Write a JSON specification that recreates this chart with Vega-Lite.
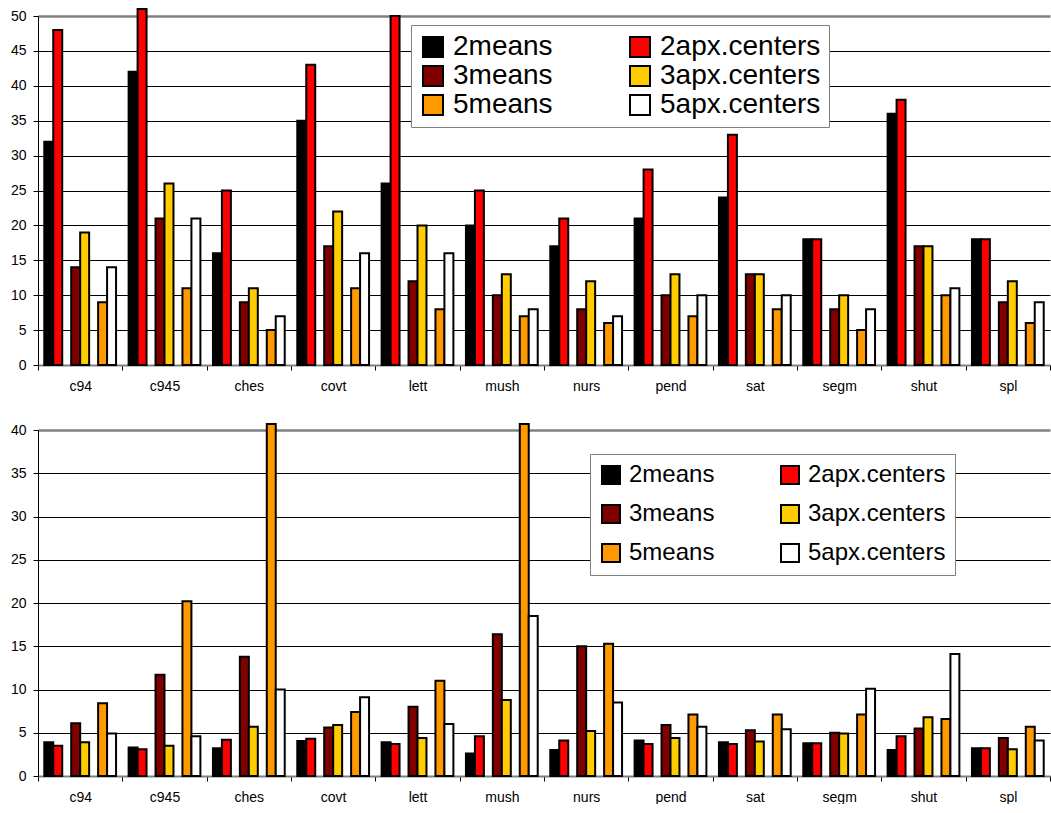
{
  "$schema": "https://vega.github.io/schema/vega-lite/v6.json",
  "padding": {"left": 10, "top": 8, "right": 0, "bottom": 0},
  "background": "white",
  "config": {"font": "Liberation Sans", "view": {"stroke": null}, "concat": {"spacing": 29}},
  "datasets": {
    "top": [
      {"c":"c94","s":"2means","v":32},{"c":"c94","s":"2apx.centers","v":48},{"c":"c94","s":"3means","v":14},{"c":"c94","s":"3apx.centers","v":19},{"c":"c94","s":"5means","v":9},{"c":"c94","s":"5apx.centers","v":14},
      {"c":"c945","s":"2means","v":42},{"c":"c945","s":"2apx.centers","v":51},{"c":"c945","s":"3means","v":21},{"c":"c945","s":"3apx.centers","v":26},{"c":"c945","s":"5means","v":11},{"c":"c945","s":"5apx.centers","v":21},
      {"c":"ches","s":"2means","v":16},{"c":"ches","s":"2apx.centers","v":25},{"c":"ches","s":"3means","v":9},{"c":"ches","s":"3apx.centers","v":11},{"c":"ches","s":"5means","v":5},{"c":"ches","s":"5apx.centers","v":7},
      {"c":"covt","s":"2means","v":35},{"c":"covt","s":"2apx.centers","v":43},{"c":"covt","s":"3means","v":17},{"c":"covt","s":"3apx.centers","v":22},{"c":"covt","s":"5means","v":11},{"c":"covt","s":"5apx.centers","v":16},
      {"c":"lett","s":"2means","v":26},{"c":"lett","s":"2apx.centers","v":50},{"c":"lett","s":"3means","v":12},{"c":"lett","s":"3apx.centers","v":20},{"c":"lett","s":"5means","v":8},{"c":"lett","s":"5apx.centers","v":16},
      {"c":"mush","s":"2means","v":20},{"c":"mush","s":"2apx.centers","v":25},{"c":"mush","s":"3means","v":10},{"c":"mush","s":"3apx.centers","v":13},{"c":"mush","s":"5means","v":7},{"c":"mush","s":"5apx.centers","v":8},
      {"c":"nurs","s":"2means","v":17},{"c":"nurs","s":"2apx.centers","v":21},{"c":"nurs","s":"3means","v":8},{"c":"nurs","s":"3apx.centers","v":12},{"c":"nurs","s":"5means","v":6},{"c":"nurs","s":"5apx.centers","v":7},
      {"c":"pend","s":"2means","v":21},{"c":"pend","s":"2apx.centers","v":28},{"c":"pend","s":"3means","v":10},{"c":"pend","s":"3apx.centers","v":13},{"c":"pend","s":"5means","v":7},{"c":"pend","s":"5apx.centers","v":10},
      {"c":"sat","s":"2means","v":24},{"c":"sat","s":"2apx.centers","v":33},{"c":"sat","s":"3means","v":13},{"c":"sat","s":"3apx.centers","v":13},{"c":"sat","s":"5means","v":8},{"c":"sat","s":"5apx.centers","v":10},
      {"c":"segm","s":"2means","v":18},{"c":"segm","s":"2apx.centers","v":18},{"c":"segm","s":"3means","v":8},{"c":"segm","s":"3apx.centers","v":10},{"c":"segm","s":"5means","v":5},{"c":"segm","s":"5apx.centers","v":8},
      {"c":"shut","s":"2means","v":36},{"c":"shut","s":"2apx.centers","v":38},{"c":"shut","s":"3means","v":17},{"c":"shut","s":"3apx.centers","v":17},{"c":"shut","s":"5means","v":10},{"c":"shut","s":"5apx.centers","v":11},
      {"c":"spl","s":"2means","v":18},{"c":"spl","s":"2apx.centers","v":18},{"c":"spl","s":"3means","v":9},{"c":"spl","s":"3apx.centers","v":12},{"c":"spl","s":"5means","v":6},{"c":"spl","s":"5apx.centers","v":9}
    ],
    "bottom": [
      {"c":"c94","s":"2means","v":3.9},{"c":"c94","s":"2apx.centers","v":3.5},{"c":"c94","s":"3means","v":6.1},{"c":"c94","s":"3apx.centers","v":3.9},{"c":"c94","s":"5means","v":8.4},{"c":"c94","s":"5apx.centers","v":4.9},
      {"c":"c945","s":"2means","v":3.3},{"c":"c945","s":"2apx.centers","v":3.1},{"c":"c945","s":"3means","v":11.7},{"c":"c945","s":"3apx.centers","v":3.5},{"c":"c945","s":"5means","v":20.2},{"c":"c945","s":"5apx.centers","v":4.6},
      {"c":"ches","s":"2means","v":3.2},{"c":"ches","s":"2apx.centers","v":4.2},{"c":"ches","s":"3means","v":13.8},{"c":"ches","s":"3apx.centers","v":5.7},{"c":"ches","s":"5means","v":40.7},{"c":"ches","s":"5apx.centers","v":10.0},
      {"c":"covt","s":"2means","v":4.05},{"c":"covt","s":"2apx.centers","v":4.3},{"c":"covt","s":"3means","v":5.6},{"c":"covt","s":"3apx.centers","v":5.9},{"c":"covt","s":"5means","v":7.4},{"c":"covt","s":"5apx.centers","v":9.1},
      {"c":"lett","s":"2means","v":3.9},{"c":"lett","s":"2apx.centers","v":3.7},{"c":"lett","s":"3means","v":8.0},{"c":"lett","s":"3apx.centers","v":4.4},{"c":"lett","s":"5means","v":11.0},{"c":"lett","s":"5apx.centers","v":6.0},
      {"c":"mush","s":"2means","v":2.6},{"c":"mush","s":"2apx.centers","v":4.6},{"c":"mush","s":"3means","v":16.4},{"c":"mush","s":"3apx.centers","v":8.8},{"c":"mush","s":"5means","v":40.7},{"c":"mush","s":"5apx.centers","v":18.5},
      {"c":"nurs","s":"2means","v":3.0},{"c":"nurs","s":"2apx.centers","v":4.1},{"c":"nurs","s":"3means","v":15.0},{"c":"nurs","s":"3apx.centers","v":5.2},{"c":"nurs","s":"5means","v":15.3},{"c":"nurs","s":"5apx.centers","v":8.5},
      {"c":"pend","s":"2means","v":4.1},{"c":"pend","s":"2apx.centers","v":3.7},{"c":"pend","s":"3means","v":5.9},{"c":"pend","s":"3apx.centers","v":4.4},{"c":"pend","s":"5means","v":7.1},{"c":"pend","s":"5apx.centers","v":5.7},
      {"c":"sat","s":"2means","v":3.9},{"c":"sat","s":"2apx.centers","v":3.7},{"c":"sat","s":"3means","v":5.3},{"c":"sat","s":"3apx.centers","v":4.0},{"c":"sat","s":"5means","v":7.1},{"c":"sat","s":"5apx.centers","v":5.4},
      {"c":"segm","s":"2means","v":3.8},{"c":"segm","s":"2apx.centers","v":3.8},{"c":"segm","s":"3means","v":5.0},{"c":"segm","s":"3apx.centers","v":4.9},{"c":"segm","s":"5means","v":7.1},{"c":"segm","s":"5apx.centers","v":10.1},
      {"c":"shut","s":"2means","v":3.0},{"c":"shut","s":"2apx.centers","v":4.6},{"c":"shut","s":"3means","v":5.5},{"c":"shut","s":"3apx.centers","v":6.8},{"c":"shut","s":"5means","v":6.6},{"c":"shut","s":"5apx.centers","v":14.1},
      {"c":"spl","s":"2means","v":3.2},{"c":"spl","s":"2apx.centers","v":3.2},{"c":"spl","s":"3means","v":4.4},{"c":"spl","s":"3apx.centers","v":3.1},{"c":"spl","s":"5means","v":5.7},{"c":"spl","s":"5apx.centers","v":4.1}
    ]
  },
  "vconcat": [
    {
      "width": 1012, "height": 349,
      "data": {"name": "top"},
      "mark": {"type": "bar", "stroke": "black", "strokeWidth": 2},
      "encoding": {
        "x": {"field": "c", "type": "nominal", "title": null, "scale": {"paddingInner": 0, "paddingOuter": 0},
              "axis": {"labelAngle": 0, "labelFontSize": 14, "labelColor": "black", "tickBand": "extent", "tickSize": 5, "tickColor": "black", "domainColor": "#808080", "domainWidth": 2, "labelPadding": 9, "grid": false}},
        "xOffset": {"field": "s", "type": "nominal", "scale": {"domain": ["2means","2apx.centers","gap1","3means","3apx.centers","gap2","5means","5apx.centers"], "paddingInner": 0, "paddingOuter": 0.7}},
        "y": {"field": "v", "type": "quantitative", "title": null, "stack": null, "scale": {"domain": [0, 50], "nice": false},
              "axis": {"values": [0,5,10,15,20,25,30,35,40,45,50], "labelFontSize": 14, "labelColor": "black", "tickSize": 5, "tickColor": "black", "domainColor": "black", "labelPadding": 7, "grid": true,
                       "gridColor": {"condition": {"test": "datum.value === 50", "value": "#808080"}, "value": "black"},
                       "gridWidth": {"condition": {"test": "datum.value === 50", "value": 2.5}, "value": 1}}},
        "color": {"field": "s", "type": "nominal",
                  "scale": {"domain": ["2means","3means","5means","2apx.centers","3apx.centers","5apx.centers"], "range": ["#000000","#800000","#FF9900","#FF0000","#FFCC00","#FFFFFF"]},
                  "legend": {"orient": "none", "legendX": 373, "legendY": 9, "columns": 2, "columnPadding": 73, "rowPadding": 1, "symbolType": "square", "symbolSize": 400, "symbolStrokeColor": "black", "symbolStrokeWidth": 2, "labelFontSize": 28, "labelColor": "black", "labelOffset": 6, "labelLimit": 400, "padding": 8, "fillColor": "white", "strokeColor": "#808080", "title": null}}
      }
    },
    {
      "width": 1012, "height": 346,
      "data": {"name": "bottom"},
      "mark": {"type": "bar", "stroke": "black", "strokeWidth": 2},
      "encoding": {
        "x": {"field": "c", "type": "nominal", "title": null, "scale": {"paddingInner": 0, "paddingOuter": 0},
              "axis": {"labelAngle": 0, "labelFontSize": 14, "labelColor": "black", "tickBand": "extent", "tickSize": 5, "tickColor": "black", "domainColor": "#808080", "domainWidth": 2, "labelPadding": 9, "grid": false}},
        "xOffset": {"field": "s", "type": "nominal", "scale": {"domain": ["2means","2apx.centers","gap1","3means","3apx.centers","gap2","5means","5apx.centers"], "paddingInner": 0, "paddingOuter": 0.7}},
        "y": {"field": "v", "type": "quantitative", "title": null, "stack": null, "scale": {"domain": [0, 40], "nice": false},
              "axis": {"values": [0,5,10,15,20,25,30,35,40], "labelFontSize": 14, "labelColor": "black", "tickSize": 5, "tickColor": "black", "domainColor": "black", "labelPadding": 7, "grid": true,
                       "gridColor": {"condition": {"test": "datum.value === 40", "value": "#808080"}, "value": "black"},
                       "gridWidth": {"condition": {"test": "datum.value === 40", "value": 2.5}, "value": 1}}},
        "color": {"field": "s", "type": "nominal",
                  "scale": {"domain": ["2means","3means","5means","2apx.centers","3apx.centers","5apx.centers"], "range": ["#000000","#800000","#FF9900","#FF0000","#FFCC00","#FFFFFF"]},
                  "legend": {"orient": "none", "legendX": 552, "legendY": 24, "columns": 2, "columnPadding": 62, "rowPadding": 13, "symbolType": "square", "symbolSize": 324, "symbolStrokeColor": "black", "symbolStrokeWidth": 2, "labelFontSize": 24, "labelColor": "black", "labelOffset": 6, "labelLimit": 400, "padding": 9, "fillColor": "white", "strokeColor": "#808080", "title": null}}
      }
    }
  ],
  "resolve": {"scale": {"color": "independent", "xOffset": "independent"}, "legend": {"color": "independent"}}
}
